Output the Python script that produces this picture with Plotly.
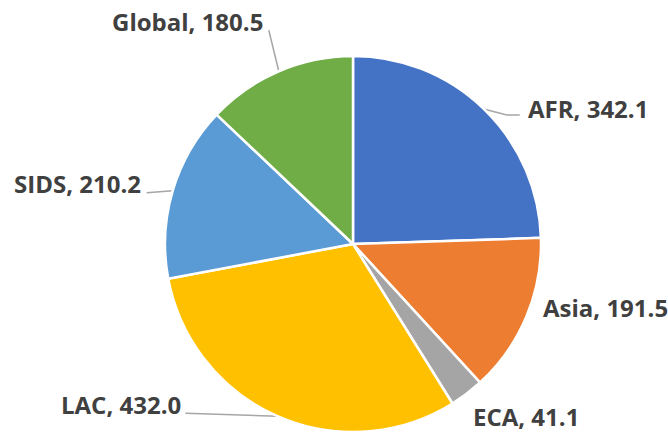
import math
import plotly.graph_objects as go

# ---- data ----
regions = ["AFR", "Asia", "ECA", "LAC", "SIDS", "Global"]
values = [342.1, 191.5, 41.1, 432.0, 210.2, 180.5]
colors = ["#4472C4", "#ED7D31", "#A5A5A5", "#FFC000", "#5B9BD5", "#70AD47"]

# ---- layout (pixels) ----
W, H = 668, 432
CX, CY, R = 353, 244, 188

# label placement relative to the slice's outer mid-point (px): text offset, anchor, leader line points
label_style = {
    "AFR":    dict(dx=43,  dy=0,   anchor="left",  line=[(23, 6), (36, 6)]),
    "Asia":   dict(dx=16,  dy=-9,  anchor="left",  line=None),
    "ECA":    dict(dx=5,   dy=23,  anchor="left",  line=None),
    "LAC":    dict(dx=-95, dy=-12, anchor="right", line=[(-92, -3)]),
    "SIDS":   dict(dx=-31, dy=-7,  anchor="right", line=[(-26, 2)]),
    "Global": dict(dx=-15, dy=-50, anchor="right", line=[(-10, -41)]),
}

fig = go.Figure()
fig.add_trace(go.Pie(
    labels=regions, values=values, sort=False, direction="clockwise", rotation=0,
    marker=dict(colors=colors, line=dict(color="white", width=2.5)),
    textinfo="none", hoverinfo="label+value", showlegend=False,
    domain=dict(x=[(CX - R) / W, (CX + R) / W], y=[(H - CY - R) / H, (H - CY + R) / H]),
))

total = sum(values)
cum = 0.0
annotations = []
for name, v in zip(regions, values):
    mid = (cum + v / 2) / total * 2 * math.pi
    cum += v
    ex = CX + R * math.sin(mid)
    ey = CY - R * math.cos(mid)
    st = label_style[name]
    if st["line"]:
        xs = [ex] + [ex + p[0] for p in st["line"]]
        ys = [ey] + [ey + p[1] for p in st["line"]]
        fig.add_trace(go.Scatter(x=xs, y=ys, mode="lines",
                                 line=dict(color="#A6A6A6", width=1.5),
                                 hoverinfo="skip", showlegend=False))
    annotations.append(dict(
        x=ex + st["dx"], y=ey + st["dy"], xref="x", yref="y",
        text=f"{name}, {v:.1f}", showarrow=False,
        xanchor=st["anchor"], yanchor="middle", borderpad=0,
        font=dict(family="Open Sans", size=24, color="#404040", weight="bold"),
    ))

fig.update_layout(
    width=W, height=H,
    margin=dict(l=0, r=0, t=0, b=0),
    paper_bgcolor="white", plot_bgcolor="rgba(0,0,0,0)",
    xaxis=dict(range=[0, W], visible=False, domain=[0, 1], fixedrange=True),
    yaxis=dict(range=[H, 0], visible=False, domain=[0, 1], fixedrange=True),
    annotations=annotations,
)

fig.write_html("out.html", config={"displayModeBar": False},
               post_script="document.body.style.margin='0';")
